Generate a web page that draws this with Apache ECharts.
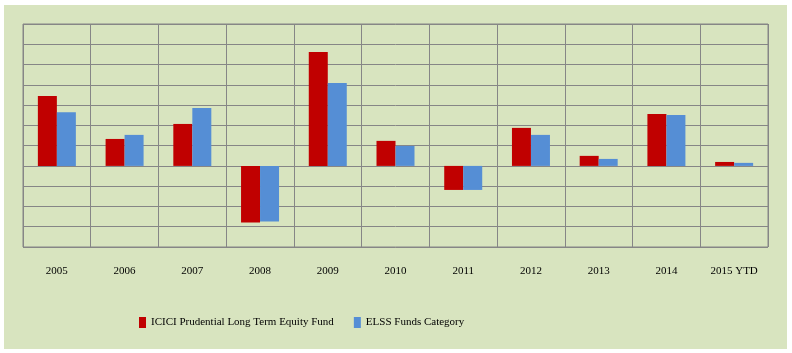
<!DOCTYPE html>
<html>
<head>
<meta charset="utf-8">
<script src="https://cdn.jsdelivr.net/npm/echarts@6/dist/echarts.min.js"></script>
<style>
  body { margin: 0; background: #ffffff; }
  #chart { position: absolute; left: 4px; top: 5px; width: 783px; height: 344px; background: #d8e4bf; }
</style>
</head>
<body>
<div id="chart"></div>
<script>
  // annual returns in %
  var years = ['2005', '2006', '2007', '2008', '2009', '2010', '2011', '2012', '2013', '2014', '2015 YTD'];
  var fundReturns = [69, 26.6, 41.4, -55.9, 112.5, 24.7, -23.7, 37.5, 9.9, 51.3, 3.9];
  var categoryReturns = [53, 30.6, 57.2, -54.9, 81.9, 19.7, -23.7, 30.6, 6.9, 50.3, 3];
  var seriesNames = ['ICICI Prudential Long Term Equity Fund', 'ELSS Funds Category'];

  var gridColor = '#868686';
  var font = 'Liberation Serif';

  var chart = echarts.init(document.getElementById('chart'));
  chart.setOption({
    animation: false,
    grid: {
      left: 19, top: 19, right: 19, bottom: 102,
      show: true, borderColor: gridColor, borderWidth: 1
    },
    legend: {
      left: 130,
      top: 307,
      itemWidth: 7,
      itemHeight: 11,
      itemGap: 20,
      icon: 'rect',
      textStyle: { fontFamily: font, fontSize: 11, color: '#000', padding: [0, 0, 8, 0] },
      data: seriesNames
    },
    xAxis: {
      type: 'category',
      data: years,
      axisLine: { show: false, onZero: false },
      axisTick: { show: false },
      axisLabel: { margin: 19, fontFamily: font, fontSize: 11, color: '#000', interval: 0 },
      splitLine: { show: true, lineStyle: { color: gridColor, width: 1 } }
    },
    yAxis: {
      type: 'value',
      min: -80,
      max: 140,
      interval: 20,
      axisLine: { show: false },
      axisTick: { show: false },
      axisLabel: { show: false },
      splitLine: { lineStyle: { color: gridColor, width: 1 } }
    },
    series: [
      {
        name: seriesNames[0],
        type: 'bar',
        data: fundReturns,
        barWidth: 19,
        barGap: '0%',
        itemStyle: { color: '#c00000' }
      },
      {
        name: seriesNames[1],
        type: 'bar',
        data: categoryReturns,
        barWidth: 19,
        itemStyle: { color: '#558ed5' }
      }
    ]
  });
</script>
</body>
</html>
